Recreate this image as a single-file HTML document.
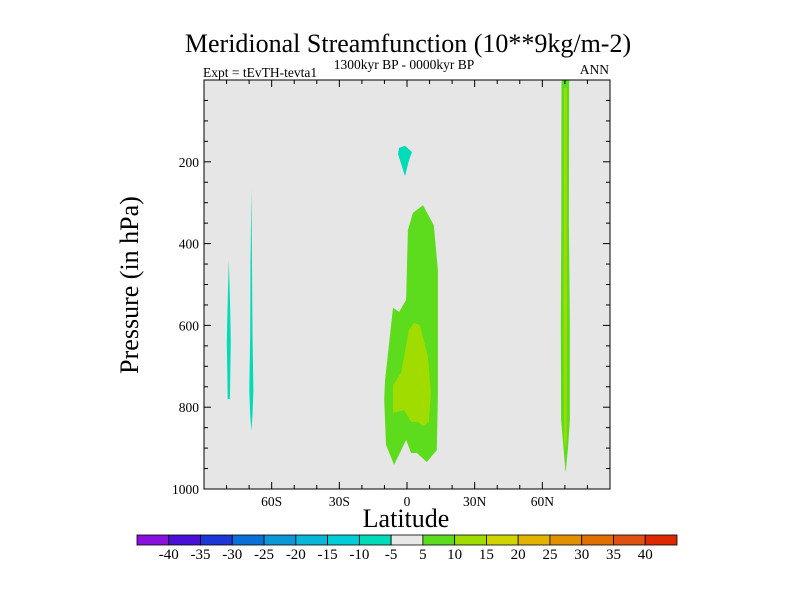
<!DOCTYPE html>
<html><head><meta charset="utf-8"><style>
body{margin:0;background:#fff;}
svg{display:block;font-family:"Liberation Serif",serif;}
</style></head><body>
<svg id="chart" width="800" height="600" viewBox="0 0 800 600">
<text x="408" y="52" font-size="26" text-anchor="middle">Meridional Streamfunction (10**9kg/m-2)</text>
<text x="404" y="69" font-size="13.5" text-anchor="middle">1300kyr BP - 0000kyr BP</text>
<text x="203" y="77" font-size="13.5">Expt = tEvTH-tevta1</text>
<text x="609" y="74" font-size="13.5" text-anchor="end">ANN</text>
<rect x="204" y="80" width="406" height="409" fill="#e6e6e6"/>
<g id="contours"></g>
<rect x="204" y="80" width="406" height="409" fill="none" stroke="#000" stroke-width="1"/>
<g id="axes"></g>
<text x="406" y="527" font-size="26" text-anchor="middle">Latitude</text>
<text transform="translate(138,285) rotate(-90)" font-size="26" text-anchor="middle">Pressure (in hPa)</text>
<g id="colorbar"></g>
</svg>
<script>
const latTicks=[-60,-30,0,30,60];
const latTickLabels=["60S","30S","0","30N","60N"];
const presTicks=[200,400,600,800,1000];
const levelLabels=[-40,-35,-30,-25,-20,-15,-10,-5,5,10,15,20,25,30,35,40];
const levelColors=["#8a10e0","#4a10d8","#1c36d8","#0a70d8","#0a98d8","#08b6d8","#00cdd8","#00dcb8","#e8e8e8","#5cdc1c","#a0dc00","#d2d400","#e2b400","#e29000","#e07000","#e05010","#e02800"];
// contour polygons: [lat, pressure]
const centralOuter=[[7.1,306],[11.9,355],[13.7,465],[13.7,770],[13.2,905],[8.8,934],[4.4,912],[1.8,912],[-0.4,880],[-5.7,941],[-9.3,892],[-10.1,782],[-9.7,733],[-6.2,557],[-3.5,567],[-0.4,538],[0.4,367],[2.6,325]];
const centralInner=[[3.1,594],[5.7,599],[9.3,677],[10.6,765],[9.7,836],[7.1,846],[4.9,836],[1.8,836],[-1.3,807],[-6.2,814],[-6.2,746],[-2.6,716],[0.9,611]];
const northOuter=[[68.5,0],[71.9,0],[71.8,350],[72.2,600],[72.2,830],[71.4,900],[70.3,960],[69.4,900],[68.3,830],[68.2,600],[68.4,350]];
const northInner=[[69.6,20],[70.8,20],[70.9,600],[70.7,880],[70.2,905],[69.7,880],[69.4,600]];
const upperNeg=[[-3.5,166],[-0.9,161],[2.2,176],[0.9,196],[-0.9,235],[-4,181]];
const southNeg1=[[-79,440],[-78.4,560],[-78.1,640],[-78.5,780],[-79.5,780],[-79.9,640],[-79.6,560]];
const southNeg2=[[-69,264],[-68.7,450],[-68.5,620],[-68.1,760],[-68.5,820],[-69,858],[-69.5,820],[-69.9,760],[-69.5,620],[-69.4,450]];
const polys=[[southNeg1,"#00dcb8","south-negative-cell-1"],[southNeg2,"#00dcb8","south-negative-cell-2"],[upperNeg,"#00dcb8","upper-negative-cell"],[centralOuter,"#5cdc1c","central-positive-cell"],[centralInner,"#a0dc00","central-positive-core"],[northOuter,"#5cdc1c","north-positive-cell"],[northInner,"#a0dc00","north-positive-core"]];
const NS="http://www.w3.org/2000/svg";
const X0=204,X1=610,Y0=80,Y1=489;
const xs=lat=>X0+(lat+90)/180*(X1-X0);
const ys=p=>Y0+p/1000*(Y1-Y0);
function mk(tag,attrs,parent){const e=document.createElementNS(NS,tag);for(const k in attrs)e.setAttribute(k,attrs[k]);parent.appendChild(e);return e;}
const cg=document.getElementById('contours');
polys.forEach(([pts,col,name])=>{
  const p=mk('polygon',{points:pts.map(q=>xs(q[0]).toFixed(1)+','+ys(q[1]).toFixed(1)).join(' '),fill:col},cg);
  
  
});
const ax=document.getElementById('axes');


for(let lat=-80;lat<=80;lat+=10){
  const major=lat%30===0;const L=major?7:4;
  mk('line',{x1:xs(lat),x2:xs(lat),y1:Y1,y2:Y1-L,stroke:'#000'},ax);
  mk('line',{x1:xs(lat),x2:xs(lat),y1:Y0,y2:Y0+L,stroke:'#000'},ax);
}
latTicks.forEach((lat,i)=>{
  const t=mk('text',{x:xs(lat),y:Y1+17,'font-size':13.5,'text-anchor':'middle'},ax);
  t.textContent=latTickLabels[i];
  
  
});
for(let p=50;p<1000;p+=50){
  const major=p%200===0;const L=major?7:4;
  mk('line',{x1:X0,x2:X0+L,y1:ys(p),y2:ys(p),stroke:'#000'},ax);
  mk('line',{x1:X1,x2:X1-L,y1:ys(p),y2:ys(p),stroke:'#000'},ax);
}
presTicks.forEach(p=>{
  const t=mk('text',{x:X0-5,y:ys(p)+5,'font-size':13.5,'text-anchor':'end'},ax);
  t.textContent=p;
  
  
});
const cb=document.getElementById('colorbar');
const bx=137,bw=540/17,by=535,bh=10;
levelColors.forEach((c,i)=>{
  const r=mk('rect',{x:bx+i*bw,y:by,width:bw,height:bh,fill:c,stroke:'#000','stroke-width':0.8},cb);
  
  
});
levelLabels.forEach((v,i)=>{
  const t=mk('text',{x:bx+(i+1)*bw,y:by+24,'font-size':15,'text-anchor':'middle'},cb);
  t.textContent=v;
  
  
});
</script>
</body></html>
